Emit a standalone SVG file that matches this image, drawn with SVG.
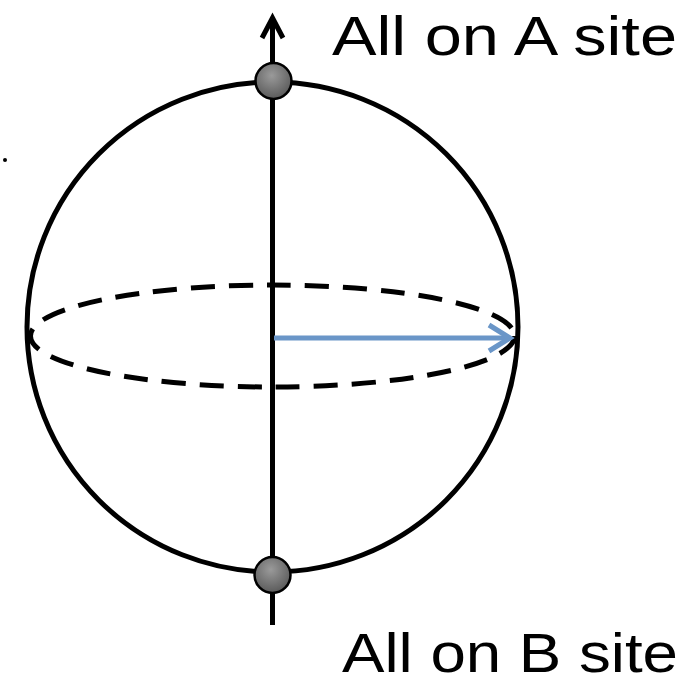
<svg xmlns="http://www.w3.org/2000/svg" width="691" height="685" viewBox="0 0 691 685">
<style>
.lbl{font-family:"Liberation Sans",Arial,sans-serif;font-size:56px;fill:#000}
.ln{fill:none;stroke:#000;stroke-width:5}
</style>
<defs>
<radialGradient id="ball" cx="0.45" cy="0.35" r="0.7">
<stop offset="0" stop-color="#9a9a9a"/>
<stop offset="1" stop-color="#555"/>
</radialGradient>
</defs>
<rect width="691" height="685" fill="#fff"/>
<g id="sphere">
<ellipse cx="272.5" cy="327" rx="245.5" ry="245" class="ln"/>
<ellipse cx="272.5" cy="336" rx="242" ry="51" class="ln" stroke-dasharray="24 14"/>
</g>
<g id="connectors">
<line x1="272.5" y1="625" x2="272.5" y2="18" class="ln"/>
<polyline points="262,38 272.5,18 283,38" class="ln" stroke-linejoin="miter"/>
<line x1="274" y1="338" x2="510" y2="338" fill="none" stroke="#6a96c8" stroke-width="5"/>
<polyline points="489,325 510,338 489,351" fill="none" stroke="#6a96c8" stroke-width="5"/>
</g>
<g id="nodeA">
<circle cx="273.5" cy="81" r="18" fill="url(#ball)" stroke="#000" stroke-width="2.5"/>
</g>
<g id="nodeB">
<circle cx="272.5" cy="575" r="18" fill="url(#ball)" stroke="#000" stroke-width="2.5"/>
</g>
<circle cx="5" cy="160" r="2" fill="#000"/>
<text class="lbl" x="332" y="55" textLength="345" lengthAdjust="spacingAndGlyphs">All on A site</text>
<text class="lbl" x="342" y="672" textLength="336" lengthAdjust="spacingAndGlyphs">All on B site</text>
</svg>
